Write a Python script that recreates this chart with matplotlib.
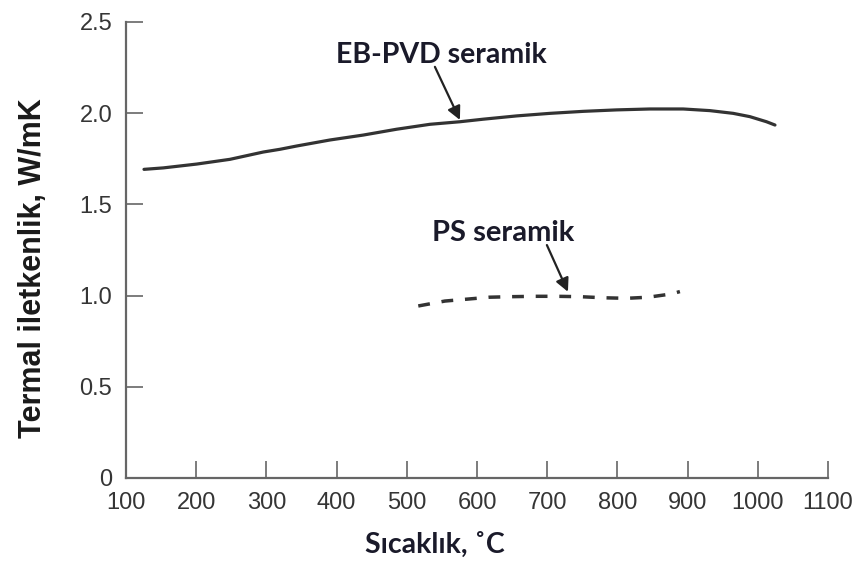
import matplotlib
matplotlib.use("Agg")
import matplotlib.pyplot as plt

# EB-PVD ceramic (solid)
eb_x = [125.6, 153.1, 200.7, 248.1, 295.5, 319.3, 343.1, 390.5, 437.9, 485.5,
        532.9, 575.6, 608.8, 656.4, 703.8, 751.2, 798.8, 846.2, 893.7, 931.7,
        964.9, 988.6, 1012.4, 1024.4]
eb_y = [1.692, 1.700, 1.721, 1.747, 1.787, 1.802, 1.820, 1.853, 1.880, 1.912,
        1.939, 1.953, 1.967, 1.985, 1.999, 2.010, 2.018, 2.023, 2.023, 2.014,
        1.999, 1.981, 1.953, 1.935]

# PS ceramic (dashed)
ps_x = [516.3, 554.3, 587.5, 617.4, 649.3, 682.5, 713.4, 746.5, 779.7, 813.0,
        843.8, 877.1, 889.0]
ps_y = [0.943, 0.970, 0.981, 0.991, 0.994, 0.996, 0.996, 0.994, 0.988, 0.985,
        0.991, 1.009, 1.022]

x_ticks = [100, 200, 300, 400, 500, 600, 700, 800, 900, 1000, 1100]
y_ticks = [0, 0.5, 1.0, 1.5, 2.0, 2.5]
y_ticklabels = ["0", "0.5", "1.0", "1.5", "2.0", "2.5"]

fig = plt.figure(figsize=(8.62, 5.62), dpi=100)
ax = fig.add_axes([0.1462, 0.1495, 0.8144, 0.8114])

line_color = "#333333"
ax.plot(eb_x, eb_y, color=line_color, lw=2.3, solid_capstyle="round",
        solid_joinstyle="round")
ax.plot(ps_x, ps_y, color=line_color, lw=2.5, dashes=(3.4, 3.4))

ax.set_xlim(100, 1100)
ax.set_ylim(0, 2.5)
ax.set_xticks(x_ticks)
ax.set_yticks(y_ticks)
ax.set_yticklabels(y_ticklabels)

for s in ["top", "right"]:
    ax.spines[s].set_visible(False)
for s in ["left", "bottom"]:
    ax.spines[s].set_color("#666666")
    ax.spines[s].set_linewidth(1.6)

ax.tick_params(direction="in", length=12, width=1.2, color="#666666",
               labelcolor="#353535", labelsize=17, pad=10)
for lab in ax.get_xticklabels() + ax.get_yticklabels():
    lab.set_family("Liberation Sans")

ax.set_xlabel("Sıcaklık, ˚C", fontsize=20.5, family="Lato", fontweight="bold",
              color="#1a1a2a", va="center")
ax.xaxis.set_label_coords((435 - 126) / 702, -(545 - 478) / 456, transform=ax.transAxes)
ax.set_ylabel("Termal iletkenlik, W/mK", fontsize=22, family="Liberation Sans",
              fontweight="bold", color="#1a1a1a", va="center")
ax.yaxis.set_label_coords(-(126 - 33) / 702, (478 - 268) / 456, transform=ax.transAxes)

ax.text(549.3, 2.319, "EB-PVD seramik", ha="center", va="center", fontsize=20.5,
        family="Lato", fontweight="bold", color="#1a1a2a")
ax.annotate("", xy=(575.6, 1.963), xytext=(540.0, 2.254),
            arrowprops=dict(arrowstyle="-|>", color="#222222", lw=1.6,
                            mutation_scale=20, shrinkA=0, shrinkB=0))
ax.text(637.6, 1.343, "PS seramik", ha="center", va="center", fontsize=21,
        family="Lato", fontweight="bold", color="#1a1a2a")
ax.annotate("", xy=(729.5, 1.021), xytext=(699.5, 1.277),
            arrowprops=dict(arrowstyle="-|>", color="#222222", lw=1.6,
                            mutation_scale=20, shrinkA=0, shrinkB=0))

fig.savefig("out.png", dpi=100)
